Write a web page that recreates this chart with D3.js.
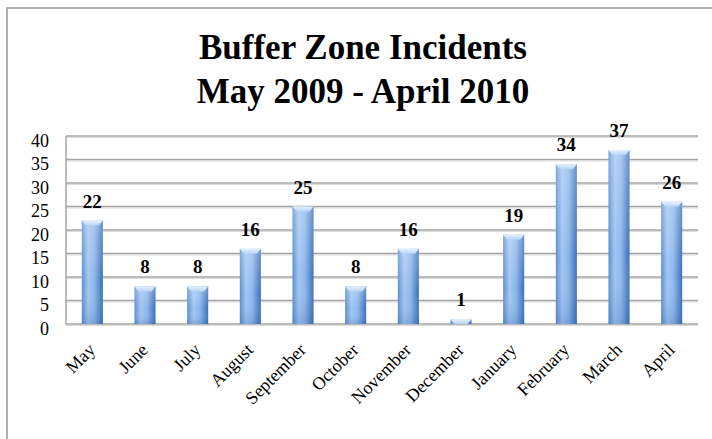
<!DOCTYPE html>
<html>
<head>
<meta charset="utf-8">
<script src="https://cdn.jsdelivr.net/npm/d3@7"></script>
<style>
  body { margin: 0; background: #fff; }
  svg { display: block; }
</style>
</head>
<body>
<div id="chart"></div>
<script>
// data
var months = ['May', 'June', 'July', 'August', 'September', 'October',
    'November', 'December', 'January', 'February', 'March', 'April'];
var incidents = [22, 8, 8, 16, 25, 8, 16, 1, 19, 34, 37, 26];
var yTicks = [0, 5, 10, 15, 20, 25, 30, 35, 40];
var titleLines = ['Buffer Zone Incidents', 'May 2009 - April 2010'];

var width = 712, height = 439;
var plotLeft = 66, plotRight = 698, plotTop = 136, plotBottom = 324;

var svg = d3.select('#chart').append('svg')
    .attr('width', width)
    .attr('height', height);

var defs = svg.append('defs');
var hg = defs.append('linearGradient').attr('id', 'barH')
    .attr('x1', '0').attr('x2', '1').attr('y1', '0').attr('y2', '0');
hg.append('stop').attr('offset', '0%').attr('stop-color', '#5a8ed1');
hg.append('stop').attr('offset', '30%').attr('stop-color', '#a2c6f1');
hg.append('stop').attr('offset', '60%').attr('stop-color', '#8cb6ea');
hg.append('stop').attr('offset', '100%').attr('stop-color', '#386fb8');

var vg = defs.append('linearGradient').attr('id', 'barV')
    .attr('x1', '0').attr('x2', '0').attr('y1', '0').attr('y2', '1');
vg.append('stop').attr('offset', '0%').attr('stop-color', '#fff').attr('stop-opacity', 0.25);
vg.append('stop').attr('offset', '60%').attr('stop-color', '#fff').attr('stop-opacity', 0);
vg.append('stop').attr('offset', '100%').attr('stop-color', '#1d4f95').attr('stop-opacity', 0.2);

var capG = defs.append('linearGradient').attr('id', 'cap')
    .attr('x1', '0').attr('x2', '0').attr('y1', '0').attr('y2', '1');
capG.append('stop').attr('offset', '0%').attr('stop-color', '#e6f1fd');
capG.append('stop').attr('offset', '100%').attr('stop-color', '#b6d3f6');

// outer frame
svg.append('rect')
    .attr('x', 7).attr('y', 8)
    .attr('width', 740).attr('height', 460)
    .style('fill', 'none')
    .style('stroke', '#b0b0b0')
    .style('stroke-width', '2px');

// title
svg.append('g').selectAll('text').data(titleLines).enter().append('text')
    .attr('x', 363)
    .attr('y', function(d, i) { return 59 + i * 44; })
    .style('font', 'bold 35px "Liberation Serif", "Times New Roman", serif')
    .style('text-anchor', 'middle')
    .style('fill', '#000')
    .text(function(d) { return d; });

var x = d3.scaleBand().domain(months).range([plotLeft, plotRight])
    .paddingInner(0.6).paddingOuter(0.3);
var y = d3.scaleLinear().domain([0, 40]).range([plotBottom, plotTop]);

// grid
var grid = svg.append('g');
grid.selectAll('line.shadow').data(yTicks).enter().append('line')
    .attr('class', 'shadow')
    .attr('x1', plotLeft).attr('x2', plotRight)
    .attr('y1', function(d) { return y(d) + 1.5; })
    .attr('y2', function(d) { return y(d) + 1.5; })
    .style('stroke', '#dcdcdc')
    .style('stroke-width', '1px');
grid.selectAll('line.grid').data(yTicks).enter().append('line')
    .attr('class', 'grid')
    .attr('x1', plotLeft).attr('x2', plotRight)
    .attr('y1', function(d) { return y(d); })
    .attr('y2', function(d) { return y(d); })
    .style('stroke', '#a4a4a4')
    .style('stroke-width', '1.5px');
svg.append('line')
    .attr('x1', plotLeft).attr('x2', plotLeft)
    .attr('y1', y(40)).attr('y2', y(0))
    .style('stroke', '#a4a4a4')
    .style('stroke-width', '1.5px');

// y axis labels
var yAxis = d3.axisLeft(y).tickValues(yTicks).tickSize(0).tickPadding(0);
var ya = svg.append('g').attr('transform', 'translate(49,0)').call(yAxis);
ya.select('.domain').remove();
ya.selectAll('text')
    .attr('dy', '10')
    .style('font', '18px "Liberation Serif", "Times New Roman", serif')
    .style('fill', '#000');

// bars
var bars = svg.append('g').selectAll('g').data(incidents).enter().append('g');
bars.append('rect')
    .attr('x', function(d, i) { return x(months[i]); })
    .attr('y', function(d) { return y(d); })
    .attr('width', x.bandwidth())
    .attr('height', function(d) { return y(0) - y(d); })
    .style('fill', 'url(#barH)');
bars.append('rect')
    .attr('x', function(d, i) { return x(months[i]); })
    .attr('y', function(d) { return y(d); })
    .attr('width', x.bandwidth())
    .attr('height', function(d) { return y(0) - y(d); })
    .style('fill', 'url(#barV)');
bars.append('path')
    .attr('d', function(d, i) {
        var x0 = x(months[i]), x1 = x0 + x.bandwidth(), t = y(d);
        var h = Math.min(5, y(0) - t);
        return 'M' + x0 + ',' + t + 'L' + x1 + ',' + t + 'L' + (x1 - 4) + ',' + (t + h) +
            'L' + (x0 + 4) + ',' + (t + h) + 'Z';
    })
    .style('fill', 'url(#cap)');

// value labels
bars.append('text')
    .attr('x', function(d, i) { return x(months[i]) + x.bandwidth() / 2; })
    .attr('y', function(d) { return y(d) - 13; })
    .style('font', 'bold 19px "Liberation Serif", "Times New Roman", serif')
    .style('text-anchor', 'middle')
    .style('fill', '#000')
    .text(function(d) { return d; });

// category labels
svg.append('g').selectAll('text').data(months).enter().append('text')
    .attr('transform', function(d) {
        return 'translate(' + (x(d) + x.bandwidth() / 2 + 4) + ',351) rotate(-45)';
    })
    .style('font', '18px "Liberation Serif", "Times New Roman", serif')
    .style('text-anchor', 'end')
    .style('fill', '#000')
    .text(function(d) { return d; });
</script>
</body>
</html>
